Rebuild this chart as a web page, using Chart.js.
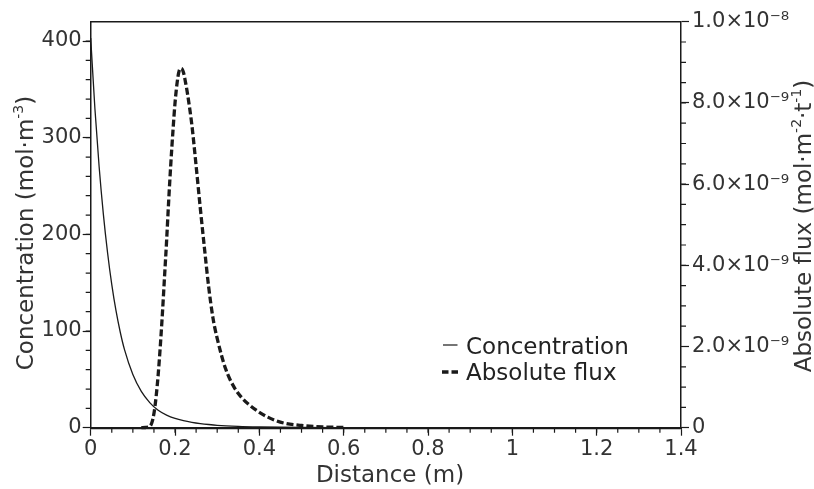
<!DOCTYPE html>
<html>
<head>
<meta charset="utf-8">
<script src="https://cdn.jsdelivr.net/npm/chart.js@4/dist/chart.umd.min.js"></script>
<style>
  html, body { margin: 0; padding: 0; background: #fff; }
  #wrap { width: 814px; height: 489px; position: relative; }
</style>
</head>
<body>
<div id="wrap"><canvas id="c" width="814" height="489"></canvas></div>
<script>
// Concentration profile along the column (mol·m⁻³)
const distance = [0, 0.01, 0.02, 0.03, 0.04, 0.05, 0.06, 0.07, 0.08, 0.10, 0.12, 0.14, 0.16, 0.18, 0.20,
  0.22, 0.24, 0.26, 0.28, 0.30, 0.35, 0.40, 0.45, 0.50, 0.60, 0.70, 0.80, 1.0, 1.2, 1.4];
const concentration = [403, 330, 270, 221, 181, 148, 121, 99, 81, 55, 37.5, 26, 18, 13, 9.6,
  7.3, 5.6, 4.3, 3.3, 2.5, 1.4, 0.8, 0.45, 0.25, 0.1, 0.04, 0.02, 0, 0, 0];

// Absolute flux (×10⁻⁹ mol·m⁻²·t⁻¹)
const fluxDistance = [0.12, 0.13, 0.14, 0.145, 0.15, 0.155, 0.16, 0.165, 0.17, 0.175, 0.18, 0.185, 0.19,
  0.195, 0.20, 0.205, 0.21, 0.215, 0.22, 0.225, 0.23, 0.24, 0.25, 0.26, 0.27, 0.28, 0.29, 0.30,
  0.32, 0.34, 0.36, 0.38, 0.40, 0.42, 0.44, 0.46, 0.50, 0.55, 0.60];
const absoluteFlux = [0, 0.005, 0.03, 0.12, 0.35, 0.75, 1.3, 2.0, 2.8, 3.7, 4.6, 5.6, 6.5,
  7.3, 8.0, 8.5, 8.8, 8.85, 8.75, 8.5, 8.2, 7.45, 6.45, 5.4, 4.4, 3.45, 2.7, 2.2,
  1.45, 1.0, 0.72, 0.53, 0.38, 0.26, 0.17, 0.11, 0.055, 0.02, 0.006];

// Axis ticks
const xTicks = [0, 0.2, 0.4, 0.6, 0.8, 1, 1.2, 1.4];
const xTickLabels = ['0', '0.2', '0.4', '0.6', '0.8', '1', '1.2', '1.4'];
const concTicks = [0, 100, 200, 300, 400];
const concTickLabels = ['0', '100', '200', '300', '400'];
const fluxTicks = [0, 2e-9, 4e-9, 6e-9, 8e-9, 1e-8];
const fluxTickLabels = ['0', '2.0×10⁻⁹', '4.0×10⁻⁹', '6.0×10⁻⁹', '8.0×10⁻⁹', '1.0×10⁻⁸'];

// Axis titles, as runs of normal and superscript text
const xTitle = [['Distance (m)']];
const concTitle = [['Concentration (mol·m'], ['-3', 'sup'], [')']];
const fluxTitle = [['Absolute flux (mol·m'], ['-2', 'sup'], ['·t'], ['-1', 'sup'], [')']];

const FONT = 'DejaVu Sans';
const TEXT = '#333';
const INK = '#1a1a1a';

const concPoints = distance.map((d, i) => ({ x: d, y: concentration[i] }));
const fluxPoints = fluxDistance.map((d, i) => ({ x: d, y: absoluteFlux[i] * 1e-9 }));

function fixedTicks(values) {
  return scale => { scale.ticks = values.map(v => ({ value: v })); };
}
function labelFor(values, labels) {
  return v => {
    const i = values.findIndex(t => Math.abs(t - v) < 1e-12);
    return i >= 0 ? labels[i] : '';
  };
}

// Draws runs centred on the current origin, on the alphabetic baseline
function drawRuns(ctx, runs, size) {
  const main = size + 'px "' + FONT + '"';
  const sup = Math.round(size * 0.62) + 'px "' + FONT + '"';
  let total = 0;
  const widths = runs.map(([t, kind]) => {
    ctx.font = kind === 'sup' ? sup : main;
    const w = ctx.measureText(t).width;
    total += w;
    return w;
  });
  let x = -total / 2;
  ctx.textAlign = 'left';
  ctx.textBaseline = 'alphabetic';
  runs.forEach(([t, kind], i) => {
    ctx.font = kind === 'sup' ? sup : main;
    ctx.fillText(t, x, kind === 'sup' ? -size * 0.42 : 0);
    x += widths[i];
  });
}

const decorations = {
  id: 'decorations',
  afterDraw(chart) {
    const { ctx, chartArea: a, scales } = chart;
    ctx.save();
    // frame top edge
    ctx.strokeStyle = INK;
    ctx.lineWidth = 1.5;
    ctx.beginPath();
    ctx.moveTo(a.left, a.top);
    ctx.lineTo(a.right, a.top);
    ctx.stroke();

    // minor ticks
    ctx.lineWidth = 1.2;
    ctx.beginPath();
    for (let v = 0.05; v < 1.4; v += 0.05) {
      const px = scales.x.getPixelForValue(v);
      ctx.moveTo(px, a.bottom);
      ctx.lineTo(px, a.bottom + 5);
    }
    for (let v = 20; v < 420; v += 20) {
      const py = scales.y.getPixelForValue(v);
      ctx.moveTo(a.left - 5, py);
      ctx.lineTo(a.left, py);
    }
    for (let v = 5e-10; v < 1e-8; v += 5e-10) {
      const py = scales.y2.getPixelForValue(v);
      ctx.moveTo(a.right, py);
      ctx.lineTo(a.right + 5, py);
    }
    ctx.stroke();
    ctx.restore();

    // axis titles
    ctx.save();
    ctx.fillStyle = TEXT;
    ctx.translate(390, 481.5);
    drawRuns(ctx, xTitle, 23);
    ctx.restore();

    ctx.save();
    ctx.fillStyle = TEXT;
    ctx.translate(33, 233);
    ctx.rotate(-Math.PI / 2);
    drawRuns(ctx, concTitle, 23);
    ctx.restore();

    ctx.save();
    ctx.fillStyle = TEXT;
    ctx.translate(811, 226);
    ctx.rotate(-Math.PI / 2);
    drawRuns(ctx, fluxTitle, 23);
    ctx.restore();

    // legend
    ctx.save();
    ctx.fillStyle = '#222';
    ctx.font = '23px "' + FONT + '"';
    ctx.textAlign = 'left';
    ctx.textBaseline = 'alphabetic';
    ctx.strokeStyle = INK;
    ctx.lineWidth = 1.2;
    ctx.beginPath();
    ctx.moveTo(443, 345);
    ctx.lineTo(457.5, 345);
    ctx.stroke();
    ctx.fillText('Concentration', 466, 354);
    ctx.lineWidth = 3.5;
    ctx.setLineDash([6.5, 3]);
    ctx.beginPath();
    ctx.moveTo(442, 372);
    ctx.lineTo(458, 372);
    ctx.stroke();
    ctx.setLineDash([]);
    ctx.fillText('Absolute flux', 466, 380);
    ctx.restore();
  }
};

new Chart(document.getElementById('c'), {
  type: 'line',
  data: {
    datasets: [
      {
        label: 'Concentration',
        data: concPoints,
        yAxisID: 'y',
        borderColor: INK,
        borderWidth: 1.3,
        pointRadius: 0,
        cubicInterpolationMode: 'monotone',
        fill: false,
        clip: false
      },
      {
        label: 'Absolute flux',
        data: fluxPoints,
        yAxisID: 'y2',
        borderColor: INK,
        borderWidth: 3.3,
        borderDash: [7, 3],
        pointRadius: 0,
        cubicInterpolationMode: 'monotone',
        fill: false,
        clip: false
      }
    ]
  },
  options: {
    responsive: false,
    devicePixelRatio: 1,
    animation: false,
    events: [],
    layout: { padding: { top: 21.7, left: 0, right: 0, bottom: 0 } },
    plugins: { legend: { display: false }, tooltip: { enabled: false } },
    scales: {
      x: {
        type: 'linear',
        position: 'bottom',
        min: 0,
        max: 1.4,
        afterBuildTicks: fixedTicks(xTicks),
        afterFit: s => { s.height = 61.3; },
        ticks: {
          callback: labelFor(xTicks, xTickLabels),
          font: { family: FONT, size: 21 },
          color: TEXT,
          padding: 1,
          maxRotation: 0,
          autoSkip: false
        },
        grid: { drawOnChartArea: false, tickLength: 8, tickColor: INK, tickWidth: 1.2 },
        border: { display: true, color: INK, width: 2.2 },
        title: { display: false }
      },
      y: {
        type: 'linear',
        position: 'left',
        min: 0,
        max: 420,
        afterBuildTicks: fixedTicks(concTicks),
        afterFit: s => { s.width = 90.7; },
        ticks: {
          callback: labelFor(concTicks, concTickLabels),
          font: { family: FONT, size: 21 },
          color: TEXT,
          padding: 1,
          autoSkip: false
        },
        grid: { drawOnChartArea: false, tickLength: 8, tickColor: INK, tickWidth: 1.2 },
        border: { display: true, color: INK, width: 1.5 },
        title: { display: false }
      },
      y2: {
        type: 'linear',
        position: 'right',
        min: 0,
        max: 1e-8,
        afterBuildTicks: fixedTicks(fluxTicks),
        afterFit: s => { s.width = 133; },
        ticks: {
          callback: labelFor(fluxTicks, fluxTickLabels),
          font: { family: FONT, size: 21 },
          color: TEXT,
          padding: 3,
          autoSkip: false
        },
        grid: { drawOnChartArea: false, tickLength: 8, tickColor: INK, tickWidth: 1.2 },
        border: { display: true, color: INK, width: 1.5 },
        title: { display: false }
      }
    }
  },
  plugins: [decorations]
});
</script>
</body>
</html>
